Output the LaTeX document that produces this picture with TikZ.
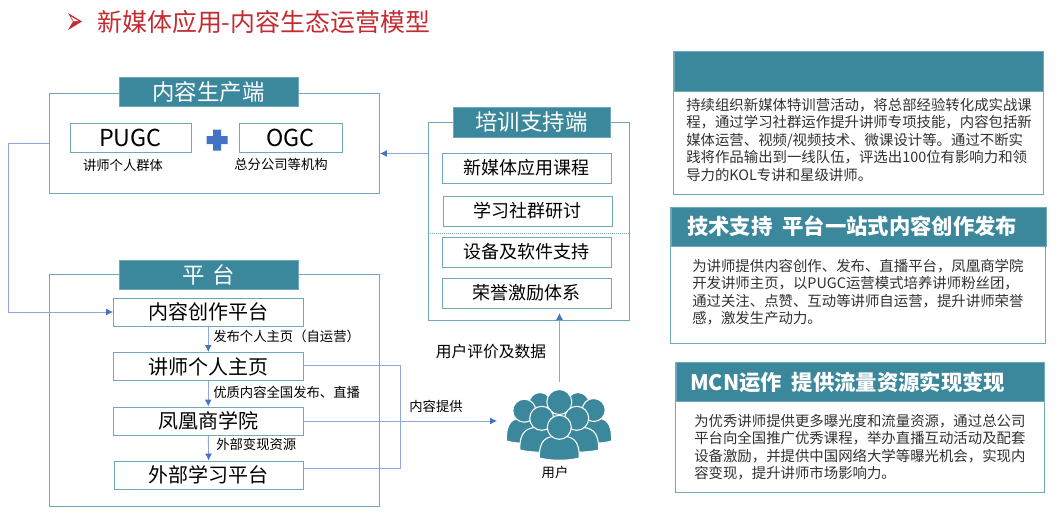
\documentclass[tikz,border=0pt]{standalone}
\usepackage{fontspec}
\setmainfont{Noto Sans CJK SC}
\usetikzlibrary{arrows.meta,positioning,calc}
\definecolor{teal}{RGB}{59,135,156}
\definecolor{edge}{RGB}{112,168,186}
\definecolor{wire}{RGB}{140,168,220}
\definecolor{tipblue}{RGB}{68,114,196}
\definecolor{title}{RGB}{196,44,50}
\definecolor{bodytext}{RGB}{50,50,50}
\newcommand{\px}{0.75pt}
\newcommand{\fs}[1]{\fontsize{#1}{#1}\selectfont}
\newcommand{\person}[6]{%
  \filldraw[person] (#1-#4,#6) .. controls (#1-#4,#5+4) and (#1-#4*0.7,#5) .. (#1,#5) .. controls (#1+#4*0.7,#5) and (#1+#4,#5+4) .. (#1+#4,#6) .. controls (#1+#4*0.4,#6+3) and (#1-#4*0.4,#6+3) .. cycle;
  \filldraw[person] (#1,#2) circle[radius=#3];
}
\tikzset{
  frame/.style={draw=edge,line width=0.7pt,fill=white,inner sep=0pt},
  head/.style={draw=edge,line width=0.5pt,fill=teal,text=white,inner sep=0pt,font=\fs{16.8}},
  panelhead/.style={head,anchor=north west},
  srcbox/.style={frame,minimum height=29*\px,font=\fs{17.5}},
  stepbox/.style={frame,minimum width=189.5*\px,minimum height=28*\px,font=\fs{15}},
  trainbox/.style={frame,minimum width=169*\px,minimum height=30*\px,font=\fs{13.5}},
  note/.style={inner sep=0pt,font=\fs{10}},
  para/.style={inner sep=0pt,anchor=north west,align=left,text=bodytext,font=\fontsize{10.8}{13.1}\selectfont},
  paneltitle/.style={inner sep=0pt,anchor=west,text=white,font=\fs{16}\bfseries},
  wired/.style={draw=wire,line width=0.7pt},
  flow/.style={wired,-{Latex[length=7*\px,width=7*\px,color=tipblue]}},
  person/.style={fill=teal,draw=white,line width=0.8pt}
}
\begin{document}
\begin{tikzpicture}[x=\px,y=-\px]
\useasboundingbox (0,0) rectangle (1056,525);
% title
\fill[title] (68,13) -- (82,21.5) -- (68,30) -- (73,21.5) -- cycle;
\fill[white] (71,16.5) -- (78.5,21) -- (73.5,21) -- cycle;
\node[anchor=west,inner sep=0pt,text=title,font=\fs{18.7}] (pagetitle) at (97,22) {新媒体应用-内容生态运营模型};

% content production
\node[frame,minimum width=330.5*\px,minimum height=100*\px] (prodframe) at (214.25,143) {};
\node[head,minimum width=179*\px,minimum height=29*\px] (prodhead) at (208.5,91.5) {内容生产端};
\node[srcbox,minimum width=121*\px] (pugc) at (130.5,137.5) {PUGC};
\node[srcbox,minimum width=103*\px] (ogc) at (290.5,137.5) {OGC};
\fill[tipblue] (213,129.5) rectangle (221,150.5) (206.5,136) rectangle (227.5,144);
\node[note] (pugcnote) at (123,165) {讲师个人群体};
\node[note] (ogcnote) at (281,164) {总分公司等机构};

% platform
\node[frame,minimum width=330.5*\px,minimum height=232*\px] (platframe) at (214.25,390) {};
\node[head,minimum width=179*\px,minimum height=29*\px] (plathead) at (208.5,274.5) {平\,\,台};
\node[stepbox] (create) at (208.25,312) {内容创作平台};
\node[stepbox] (homepage) at (208.25,366.5) {讲师个人主页};
\node[stepbox] (academy) at (208.25,421) {凤凰商学院};
\node[stepbox] (external) at (208.75,475) {外部学习平台};
\node[note,anchor=west] (publishnote) at (213,336) {发布个人主页（自运营）};
\node[note,anchor=west] (qualitynote) at (213,392) {优质内容全国发布、直播};
\node[note,anchor=west] (resourcenote) at (216,444) {外部变现资源};
\draw[flow] (create) -- (homepage);
\draw[flow] (homepage) -- (academy);
\draw[flow] (academy) -- (external);

% training support
\node[frame,minimum width=201*\px,minimum height=198*\px] (trainframe) at (528.5,221) {};
\node[head,minimum width=157*\px,minimum height=30*\px] (trainhead) at (531.5,122) {培训支持端};
\node[trainbox] (course) at (526.5,168) {新媒体应用课程};
\node[trainbox] (community) at (527.75,211) {学习社群研讨};
\node[trainbox] (device) at (526.5,252) {设备及软件支持};
\node[trainbox] (honor) at (526.5,293) {荣誉激励体系};
\draw[draw=edge,line width=0.5pt,densely dotted] (trainframe.west |- 0,233) -- (trainframe.east |- 0,233);

% links
\coordinate (leftbend) at (8,143);
\draw[flow] (prodframe.west) -- (leftbend) |- (create.west);
\coordinate (feedstart) at (428,153.5);
\draw[flow] (feedstart) -- (feedstart -| prodframe.east);
\coordinate (rightbend) at (400,365.5);
\coordinate (rightbendlow) at (400,468);
\draw[wired] (homepage.east |- rightbend) -- (rightbend) -- (rightbendlow) -- (external.east |- rightbendlow);
\coordinate (usersin) at (497,421);
\draw[flow] (academy.east) -- (usersin);
\coordinate (usersout) at (559.5,382);
\coordinate (trainin) at (559.5,313);
\draw[flow] (usersout) -- (trainin);
\node[font=\fs{10},inner sep=0pt] (supplylabel) at (436,406) {内容提供};
\node[font=\fs{11.8},inner sep=0pt] (ratinglabel) at (491,352) {用户评价及数据};

% users
\person{540}{403.5}{11}{20}{412}{440}
\person{578}{403.5}{11}{20}{412}{440}
\person{559.3}{402}{12.5}{22}{410}{440}
\person{524.3}{410.7}{11.5}{18}{418}{441}
\person{593.7}{410}{11.5}{18}{418}{441}
\person{541.7}{418.3}{12}{22}{427}{450}
\person{576.7}{418.3}{12}{22}{427}{450}
\person{559.3}{427.3}{12}{20}{436}{458}
\node[note] (userlabel) at (555,472) {用户};

% right panels
\node[frame,minimum width=369.5*\px,minimum height=143*\px] (panela) at (858.25,122.5) {};
\node[panelhead,minimum width=369.5*\px,minimum height=40*\px] (panelahead) at (673.5,51) {};
\node[para] (panelatext) at (686,98) {持续组织新媒体特训营活动，将总部经验转化成实战课\\程，通过学习社群运作提升讲师专项技能，内容包括新\\媒体运营、视频/视频技术、微课设计等。通过不断实\\践将作品输出到一线队伍，评选出100位有影响力和领\\导力的KOL专讲和星级讲师。};

\node[frame,minimum width=375*\px,minimum height=136*\px] (panelb) at (858.2,275) {};
\node[panelhead,minimum width=375*\px,minimum height=39*\px] (panelbhead) at (670.7,207) {};
\node[paneltitle] (panelbtitle) at (687,226) {技术支持\ \ 平台一站式内容创作发布};
\node[para] (panelbtext) at (692,259) {为讲师提供内容创作、发布、直播平台，凤凰商学院\\开发讲师主页，以PUGC运营模式培养讲师粉丝团，\\通过关注、点赞、互动等讲师自运营，提升讲师荣誉\\感，激发生产动力。};

\node[frame,minimum width=368.5*\px,minimum height=130*\px] (panelc) at (860,427) {};
\node[panelhead,minimum width=368.5*\px,minimum height=39*\px] (panelchead) at (675.7,362) {};
\node[paneltitle] (panelctitle) at (690,382) {MCN运作\ \ 提供流量资源实现变现};
\node[para] (panelctext) at (694,414) {为优秀讲师提供更多曝光度和流量资源，通过总公司\\平台向全国推广优秀课程，举办直播互动活动及配套\\设备激励，并提供中国网络大学等曝光机会，实现内\\容变现，提升讲师市场影响力。};
\end{tikzpicture}
\end{document}
